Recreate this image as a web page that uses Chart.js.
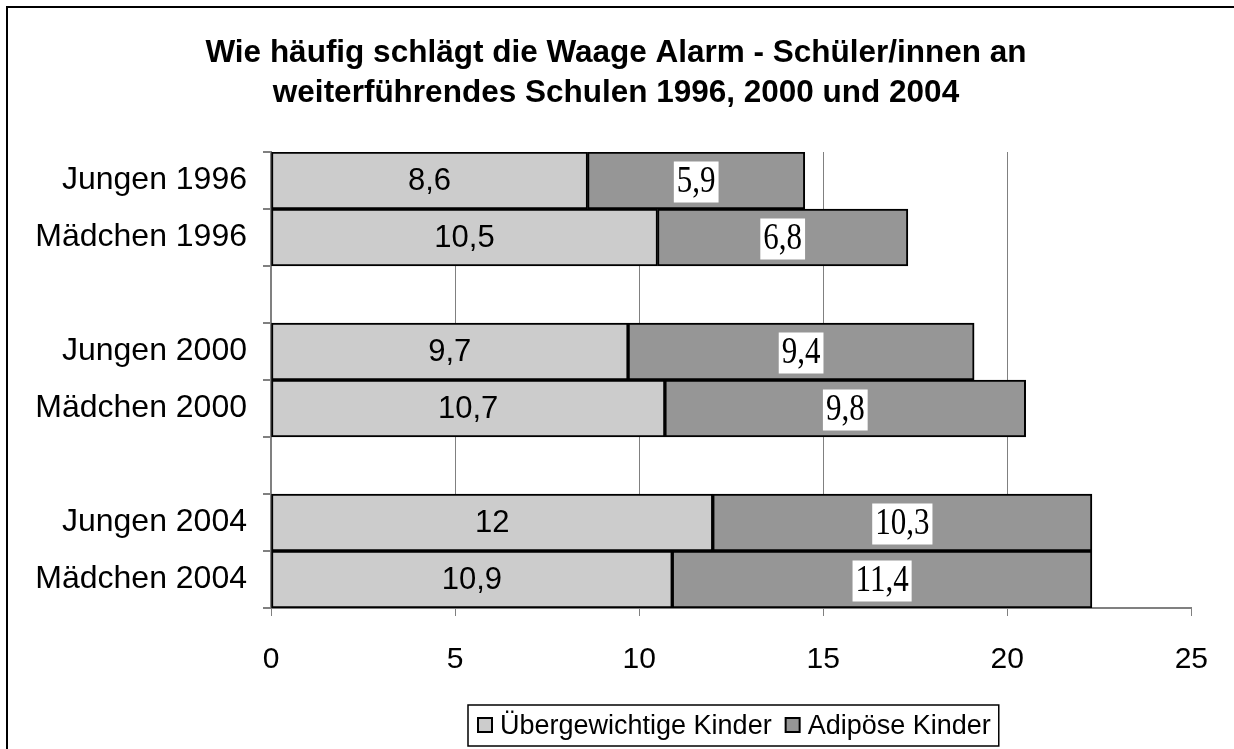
<!DOCTYPE html>
<html>
<head>
<meta charset="utf-8">
<script src="https://cdn.jsdelivr.net/npm/chart.js@4.4.1/dist/chart.umd.min.js"></script>
<style>
html,body{margin:0;padding:0;background:#fff;}
canvas{display:block;}
</style>
</head>
<body>
<canvas id="c" width="1234" height="749"></canvas>
<script>
const titleLines = ['Wie häufig schlägt die Waage Alarm - Schüler/innen an', 'weiterführendes Schulen 1996, 2000 und 2004'];
const categories = ['Jungen 1996', 'Mädchen 1996', '', 'Jungen 2000', 'Mädchen 2000', '', 'Jungen 2004', 'Mädchen 2004'];
const seriesNames = ['Übergewichtige Kinder', 'Adipöse Kinder'];
const overweight = [8.6, 10.5, null, 9.7, 10.7, null, 12, 10.9];
const obese = [5.9, 6.8, null, 9.4, 9.8, null, 10.3, 11.4];
const xTicks = [0, 5, 10, 15, 20, 25];

const SANS = "'Liberation Sans', Arial, sans-serif";
const SERIF = "'Liberation Serif', 'Times New Roman', serif";
const fmt = v => String(v).replace('.', ',');

const frame = {
  id: 'frame',
  beforeDraw(chart) {
    const c = chart.ctx;
    c.save();
    c.fillStyle = '#fff';
    c.fillRect(0, 0, chart.width, chart.height);
    c.strokeStyle = '#000';
    c.lineWidth = 2;
    c.beginPath();
    c.moveTo(7, chart.height);
    c.lineTo(7, 7);
    c.lineTo(chart.width, 7);
    c.stroke();
    // title
    c.fillStyle = '#000';
    c.font = 'bold 31.5px ' + SANS;
    c.textAlign = 'center';
    c.textBaseline = 'middle';
    titleLines.forEach((t, i) => c.fillText(t, 616, 53 + i * 40));
    c.restore();
  }
};

const labelsPlugin = {
  id: 'valueLabels',
  afterDatasetsDraw(chart) {
    const c = chart.ctx;
    c.save();
    c.textAlign = 'center';
    c.textBaseline = 'middle';
    chart.data.datasets.forEach((ds, di) => {
      const meta = chart.getDatasetMeta(di);
      meta.data.forEach((el, i) => {
        const v = ds.data[i];
        if (v === null || v === undefined) return;
        const p = el.getProps(['x', 'y', 'base'], true);
        const cx = (p.x + p.base) / 2;
        const cy = p.y;
        const txt = fmt(v);
        if (di === 0) {
          c.font = '31px ' + SANS;
          c.fillStyle = '#000';
          c.fillText(txt, cx, cy + 1);
        } else {
          c.font = '31px ' + SERIF;
          const w = c.measureText(txt).width;
          c.fillStyle = '#fff';
          c.fillRect(cx - w / 2 - 3, cy - 19, w + 6, 41);
          c.save();
          c.translate(cx, cy + 2);
          c.scale(1, 1.2);
          c.fillStyle = '#000';
          c.fillText(txt, 0, 0);
          c.restore();
        }
      });
    });
    c.restore();
  }
};

const legendPlugin = {
  id: 'boxLegend',
  afterDraw(chart) {
    const c = chart.ctx;
    c.save();
    c.font = '27px ' + SANS;
    c.textBaseline = 'middle';
    const left = 468, top = 705, h = 41;
    let x = left + 10;
    const items = chart.data.datasets.map(ds => ({ text: ds.label, color: ds.backgroundColor }));
    const positions = [];
    items.forEach((it, i) => {
      positions.push(x);
      x += 14 + 8 + c.measureText(it.text).width + 14;
    });
    const right = x - 6;
    c.strokeStyle = '#000';
    c.lineWidth = 1.5;
    c.strokeRect(left, top, right - left, h);
    items.forEach((it, i) => {
      const px = positions[i];
      c.fillStyle = it.color;
      c.fillRect(px, top + 13, 14, 14);
      c.strokeStyle = '#000';
      c.lineWidth = 2;
      c.strokeRect(px, top + 13, 14, 14);
      c.fillStyle = '#000';
      c.fillText(it.text, px + 22, top + h / 2 + 1);
    });
    c.restore();
  }
};

new Chart(document.getElementById('c'), {
  type: 'bar',
  data: {
    labels: categories,
    datasets: [
      { label: seriesNames[0], data: overweight, backgroundColor: '#cccccc', borderColor: '#000', borderWidth: 2, borderSkipped: false, barPercentage: 1, categoryPercentage: 1 },
      { label: seriesNames[1], data: obese, backgroundColor: '#969696', borderColor: '#000', borderWidth: 2, borderSkipped: false, barPercentage: 1, categoryPercentage: 1 }
    ]
  },
  options: {
    indexAxis: 'y',
    responsive: false,
    animation: false,
    devicePixelRatio: 1,
    layout: { padding: { left: 0, right: 41, top: 152, bottom: 0 } },
    plugins: {
      legend: { display: false },
      tooltip: { enabled: false },
      title: { display: false }
    },
    scales: {
      x: {
        stacked: true,
        min: 0,
        max: 25,
        afterBuildTicks: s => { s.ticks = xTicks.map(v => ({ value: v })); },
        afterFit: s => { s.height = 141; },
        ticks: { color: '#000', font: { family: SANS, size: 30 }, padding: 26, maxRotation: 0 },
        grid: {
          color: ctx => (ctx.tick && (ctx.tick.value === 25 || ctx.tick.value === 0)) ? 'rgba(0,0,0,0)' : '#808080',
          tickColor: '#808080',
          tickLength: 8,
          lineWidth: 1
        },
        border: { display: true, color: '#808080', width: 2 }
      },
      y: {
        stacked: true,
        afterFit: s => { s.width = 271; },
        ticks: { color: '#000', font: { family: SANS, size: 32 }, padding: 16 },
        grid: { display: true, drawOnChartArea: false, offset: true, color: '#808080', tickLength: 8, lineWidth: 2 },
        border: { display: true, color: '#808080', width: 2 }
      }
    }
  },
  plugins: [frame, labelsPlugin, legendPlugin]
});
</script>
</body>
</html>
